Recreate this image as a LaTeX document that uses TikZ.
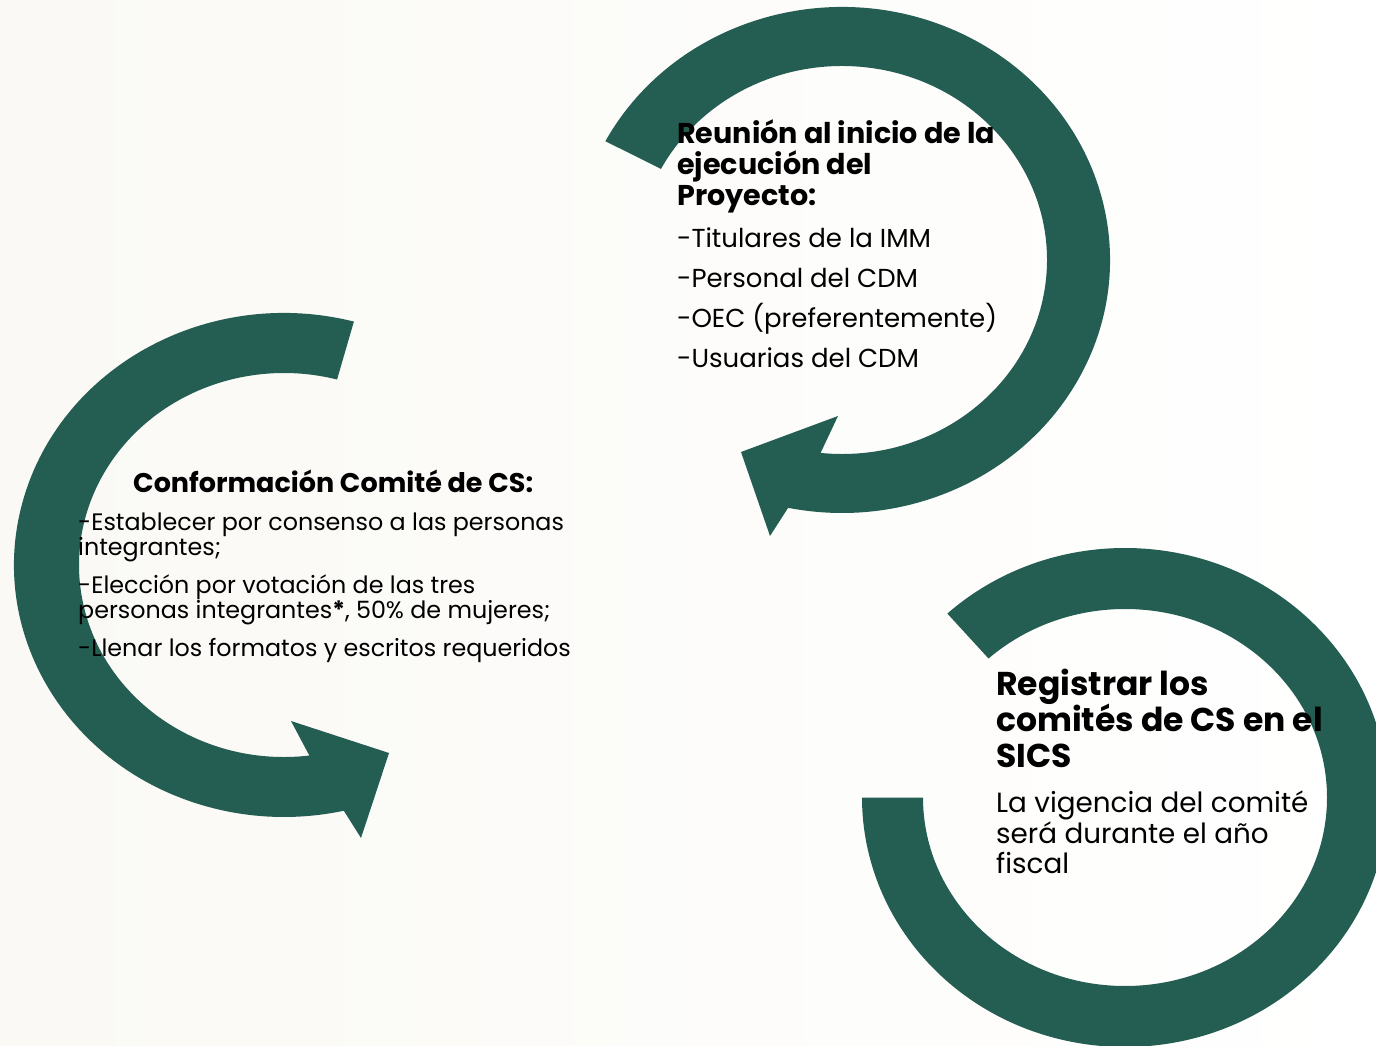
\documentclass[tikz,border=0pt]{standalone}
\usepackage{fontspec}
\setmainfont{Poppins}
\usetikzlibrary{calc}
\definecolor{arrowgreen}{RGB}{36,94,82}
\definecolor{paper}{RGB}{250,249,245}
\begin{document}
\begin{tikzpicture}[x=1pt,y=1pt,
  band/.style={fill=arrowgreen,draw=none},
  txt/.style={anchor=base west,inner sep=0pt,text=black},
  hA/.style={txt,font=\fontsize{28.6}{30}\selectfont\bfseries},
  bA/.style={txt,font=\fontsize{26}{30}\selectfont},
  hB/.style={txt,font=\fontsize{27}{28}\selectfont\bfseries},
  bB/.style={txt,font=\fontsize{23.8}{28}\selectfont},
  hC/.style={txt,font=\fontsize{33}{36}\selectfont\bfseries},
  bC/.style={txt,font=\fontsize{27.8}{30}\selectfont}]
\useasboundingbox (0,0) rectangle (1376,1045);
\clip (0,0) rectangle (1376,1045);
\shade[left color=paper,right color=white] (0,0) rectangle (1376,1045);

% arrow 1 (top right, clockwise)
\coordinate (c1) at (842,785);
\fill[band] ($(c1)+(152:268 and 253)$)
  arc[start angle=152,end angle=-101.6,x radius=268,y radius=253]
  -- (770,509) -- (741,593) -- (838,629)
  -- ($(c1)+(-96:205 and 194)$)
  arc[start angle=-96,end angle=152,x radius=205,y radius=194] -- cycle;

% arrow 2 (left, counter-clockwise)
\coordinate (c2) at (284,480);
\fill[band] ($(c2)+(75:270 and 252)$)
  arc[start angle=75,end angle=282.8,x radius=270,y radius=252]
  -- (361,207) -- (389,292) -- (291,324)
  -- ($(c2)+(277.1:205 and 192)$)
  arc[start angle=277.1,end angle=75,x radius=205,y radius=192] -- cycle;

% ring 3 (bottom right)
\coordinate (c3) at (1125,247.5);
\fill[band] ($(c3)+(132.5:263 and 249.5)$)
  arc[start angle=132.5,end angle=-180,x radius=263,y radius=249.5]
  -- ($(c3)+(180:202 and 188.5)$)
  arc[start angle=-180,end angle=132.5,x radius=202,y radius=188.5] -- cycle;

% text 1
\node[hA] (t1a) at (677,901) {Reunión al inicio de la};
\node[hA] (t1b) at (677,870) {ejecución del};
\node[hA] (t1c) at (677,839) {Proyecto:};
\node[bA] (t1d) at (677,797) {-Titulares de la IMM};
\node[bA] (t1e) at (677,757) {-Personal del CDM};
\node[bA] (t1f) at (677,717) {-OEC (preferentemente)};
\node[bA] (t1g) at (677,677) {-Usuarias del CDM};

% text 2
\node[hB] (t2a) at (133,552) {Conformación Comité de CS:};
\node[bB] (t2b) at (78,514) {-Establecer por consenso a las personas};
\node[bB] (t2c) at (78,489) {integrantes;};
\node[bB] (t2d) at (78,451) {-Elección por votación de las tres};
\node[bB] (t2e) at (78,426) {personas integrantes\textbf{*}, 50\% de mujeres;};
\node[bB] (t2f) at (78,388) {-Llenar los formatos y escritos requeridos};

% text 3
\node[hC] (t3a) at (996,349) {Registrar los};
\node[hC] (t3b) at (996,313) {comités de CS en el};
\node[hC] (t3c) at (996,278) {SICS};
\node[bC] (t3d) at (996,233) {La vigencia del comité};
\node[bC] (t3e) at (996,202) {será durante el año};
\node[bC] (t3f) at (996,172) {fiscal};
\end{tikzpicture}
\end{document}
